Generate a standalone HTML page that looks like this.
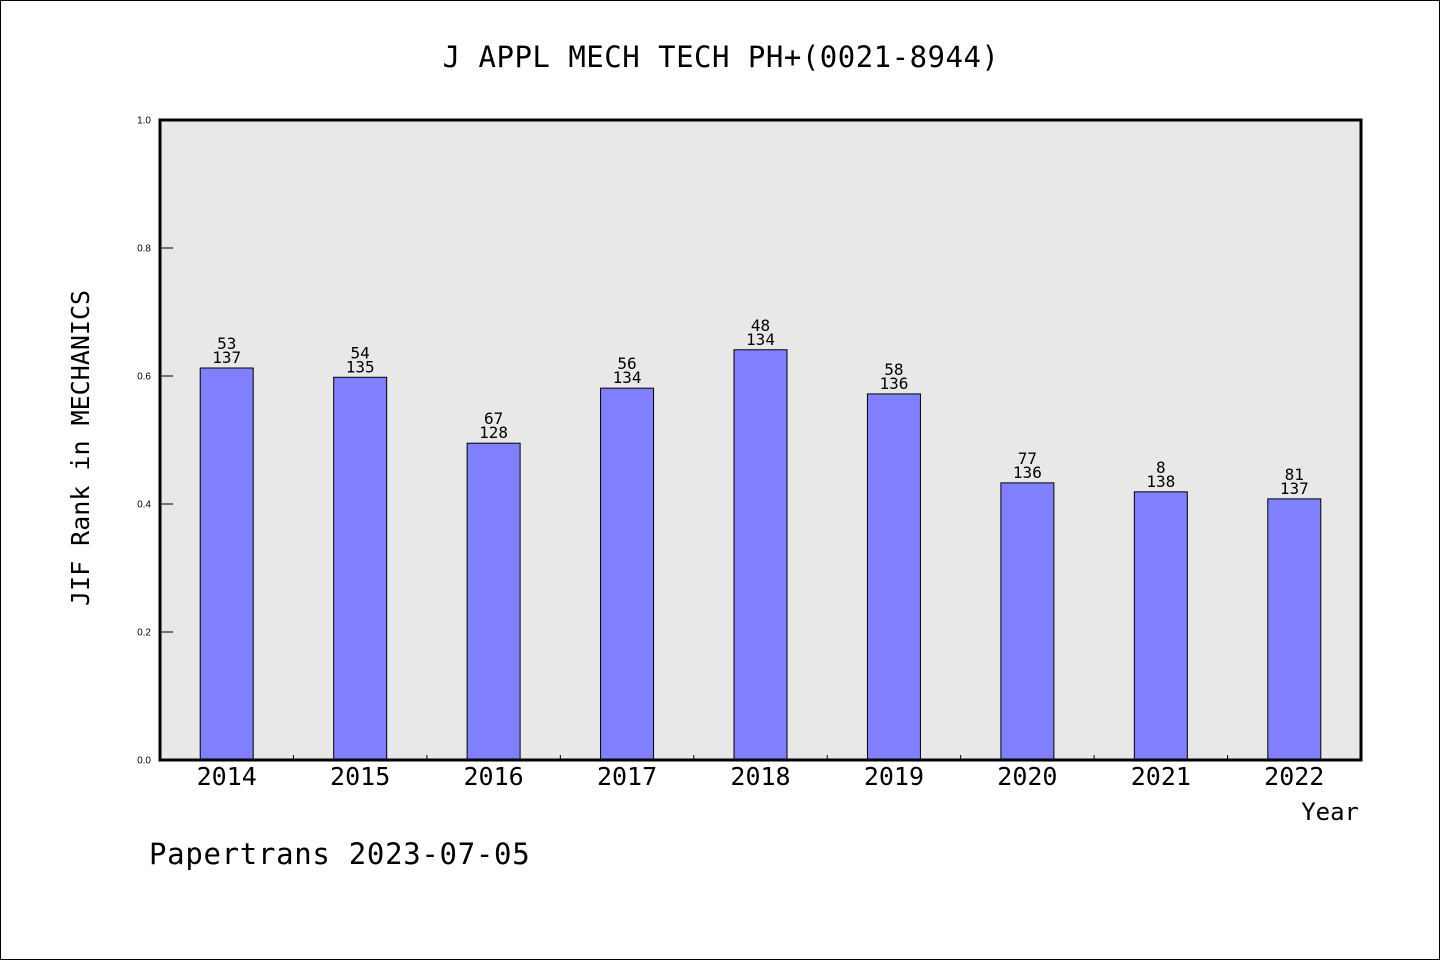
<!DOCTYPE html>
<html><head><meta charset="utf-8"><style>
body{margin:0;background:#fff}
svg{display:block}
text{font-family:"DejaVu Sans Mono","Liberation Mono",monospace;fill:#000}
</style></head><body>
<svg id="c" width="1440" height="960">
<rect x="0.5" y="0.5" width="1439" height="959" fill="#fff" stroke="#000"/>
<text x="721" y="67" text-anchor="middle" font-size="29" letter-spacing="0.5">J APPL MECH TECH PH+(0021-8944)</text>
<rect x="160" y="120" width="1201" height="640" fill="#e8e8e8"/>
<g id="bars"></g>
<rect x="160" y="120" width="1201" height="640" fill="none" stroke="#000" stroke-width="3"/>
<text transform="translate(89,448) rotate(-90)" text-anchor="middle" font-size="25">JIF Rank in MECHANICS</text>
<text x="1359" y="820" text-anchor="end" font-size="24">Year</text>
<text x="149" y="864" font-size="29" letter-spacing="0.7">Papertrans 2023-07-05</text>
</svg>
<script>
const years=["2014","2015","2016","2017","2018","2019","2020","2021","2022"];
const values=[0.6125,0.598,0.495,0.581,0.641,0.572,0.433,0.419,0.408];
const ranks=["53","54","67","56","48","58","77","8","81"];
const totals=["137","135","128","134","134","136","136","138","137"];
const yTicks=[0,0.2,0.4,0.6,0.8,1.0];
const X0=160,W=1201,Y0=760,H=640;
const bw=W/years.length;
const y=v=>Y0-v*H;
const xc=i=>X0+bw*(i+0.5);
const g=document.getElementById('bars');
const NS='http://www.w3.org/2000/svg';
function mk(t,a){const e=document.createElementNS(NS,t);for(const k in a)e.setAttribute(k,a[k]);return e;}
years.forEach((yr,i)=>{
  const r=mk('rect',{x:xc(i)-26.5,y:y(values[i]),width:53,height:Y0-y(values[i]),fill:'#8080ff',stroke:'#000','stroke-width':1});
  
  
  g.appendChild(r);
  const t1=mk('text',{x:xc(i),y:y(values[i])-19,'text-anchor':'middle','font-size':16});
  t1.textContent=ranks[i];
  
  
  g.appendChild(t1);
  const t2=mk('text',{x:xc(i),y:y(values[i])-5,'text-anchor':'middle','font-size':16});
  t2.textContent=totals[i];
  
  
  g.appendChild(t2);
  const xl=mk('text',{x:xc(i),y:785,'text-anchor':'middle','font-size':25});
  xl.textContent=yr;
  
  
  g.appendChild(xl);
  if(i>0){
    const tk=mk('line',{x1:X0+bw*i,x2:X0+bw*i,y1:Y0,y2:Y0-5,stroke:'#000','stroke-width':1});
    
    
    g.appendChild(tk);
  }
});
yTicks.forEach(v=>{
  const tk=mk('line',{x1:X0,x2:X0+13,y1:y(v),y2:y(v),stroke:'#000','stroke-width':1});
  
  
  g.appendChild(tk);
  const t=mk('text',{x:151,y:y(v)+3.5,'text-anchor':'end','font-size':10,style:'font-family:"Liberation Sans",sans-serif'});
  t.textContent=v.toFixed(1);
  
  
  g.appendChild(t);
});
</script>
</body></html>
